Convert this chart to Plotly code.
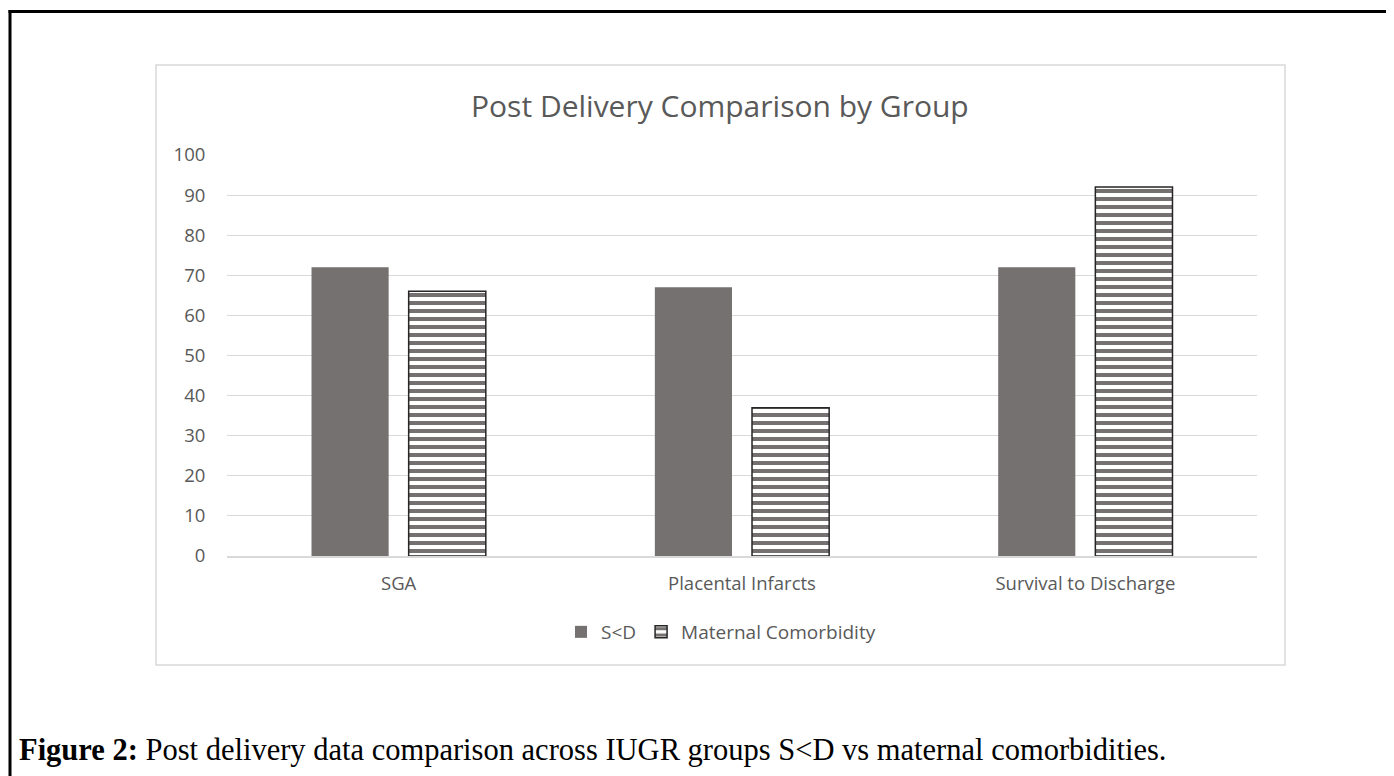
import plotly.graph_objects as go

categories = ["SGA", "Placental Infarcts", "Survival to Discharge"]
sd_values = [72, 67, 72]
mc_values = [66, 37, 92]
series_names = ["S<D", "Maternal Comorbidity"]
y_ticks = [0, 10, 20, 30, 40, 50, 60, 70, 80, 90, 100]
title_text = "Post Delivery Comparison by Group"
caption_bold = "Figure 2:"
caption_rest = " Post delivery data comparison across IUGR groups S<D vs maternal comorbidities."

OFF = 8  # page body margin
W, H = 1394 - OFF, 776 - OFF
L, R, T, B = 227, 1257, 155, 556  # plot area in screen pixels

def px(x):
    return (x - L) / (R - L)

def py(y):
    return (B - y) / (B - T)

FONT = "Open Sans"
GRAY_TXT = "#595959"
BAR_GRAY = "#767171"

fig = go.Figure()
fig.add_trace(go.Bar(
    x=categories, y=sd_values, name=series_names[0],
    marker=dict(color=BAR_GRAY, line=dict(width=0)),
))
fig.add_trace(go.Bar(
    x=categories, y=mc_values, name=series_names[1],
    marker=dict(
        color="white",
        line=dict(color="#262626", width=1.5),
        pattern=dict(shape="-", fgcolor=BAR_GRAY, bgcolor="white", size=8, solidity=0.5, fgopacity=1),
    ),
))

shapes = [
    dict(type="rect", xref="paper", yref="paper",
         x0=px(156), x1=px(1285), y0=py(65), y1=py(665),
         line=dict(color="#d9d9d9", width=1.5), fillcolor="rgba(0,0,0,0)", layer="below"),
    dict(type="line", xref="paper", yref="paper",
         x0=px(10), x1=px(10), y0=py(10), y1=py(800),
         line=dict(color="black", width=3)),
    dict(type="line", xref="paper", yref="paper",
         x0=px(8.5), x1=px(1420), y0=py(11.5), y1=py(11.5),
         line=dict(color="black", width=3)),
]

annotations = [
    dict(text=title_text, xref="paper", yref="paper", x=px(720), y=py(106),
         xanchor="center", yanchor="middle", showarrow=False,
         font=dict(family=FONT, size=30, color=GRAY_TXT)),
    dict(text="<b>" + caption_bold + "</b>" + caption_rest.replace("<", "&lt;"),
         xref="paper", yref="paper", x=px(17), y=py(750),
         xanchor="left", yanchor="middle", showarrow=False,
         font=dict(family="Liberation Serif", size=30.5, color="black")),
]

fig.update_layout(
    width=W, height=H,
    margin=dict(l=L - OFF, r=W - (R - OFF), t=T - OFF, b=H - (B - OFF), pad=0),
    paper_bgcolor="white", plot_bgcolor="white",
    barmode="group", bargap=0.434, bargroupgap=0.206,
    showlegend=True,
    legend=dict(orientation="h", x=px(721), y=py(632), xanchor="center", yanchor="middle",
                font=dict(family=FONT, size=19, color=GRAY_TXT), traceorder="normal",
                itemwidth=30),
    shapes=shapes, annotations=annotations,
    font=dict(family=FONT, color=GRAY_TXT),
)
fig.update_yaxes(range=[0, 100], tickvals=y_ticks, showgrid=True, gridcolor="#d9d9d9", gridwidth=1,
                 zeroline=False, showline=False, ticks="outside", ticklen=17, tickcolor="rgba(0,0,0,0)",
                 tickfont=dict(family=FONT, size=18.5, color=GRAY_TXT))
fig.update_xaxes(showline=True, linecolor="#d9d9d9", linewidth=1.5, showgrid=False,
                 ticks="outside", ticklen=10, tickcolor="rgba(0,0,0,0)",
                 tickfont=dict(family=FONT, size=18.5, color=GRAY_TXT))

fig.write_html("out.html")
